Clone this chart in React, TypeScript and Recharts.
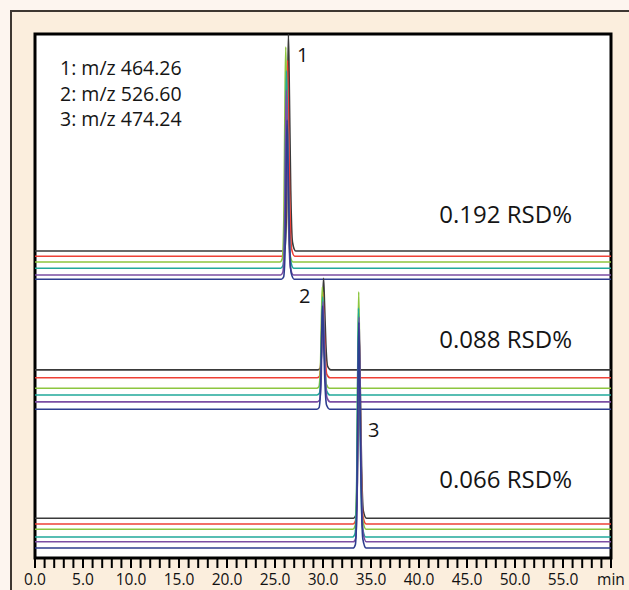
import React from 'react';
import { LineChart, Line, XAxis, YAxis, ReferenceArea, Customized } from 'recharts';

// ---- data ----
const traceColors = ['#3a3a3a', '#ee4036', '#8dc63f', '#20a99b', '#7b4ea3', '#2e3d8f'];
const traceNames = ['run1', 'run2', 'run3', 'run4', 'run5', 'run6'];

// peak shape template (minutes relative to apex, fraction of peak height)
const peakOffsets = [-0.6, -0.36, -0.2, -0.08, 0, 0.1, 0.24, 0.42, 0.75];
const peakShape = [0, 0.015, 0.2, 0.75, 1, 0.72, 0.28, 0.04, 0];

// panel 1 (m/z 464.26)
const p1Times = [26.4, 26.3, 26.12, 26.2, 26.18, 26.26];
const p1Base = [58.6, 57.6, 56.5, 55.3, 54.0, 53.2];
const p1Apex = [100, 95, 97.5, 93, 89.3, 83.6];

// panel 2 (m/z 526.60)
const p2Times = [30.06, 29.98, 29.93, 29.97, 30.0, 29.95];
const p2Base = [35.9, 34.4, 32.4, 31.1, 29.8, 28.4];
const p2Apex = [53.4, 50.8, 51.7, 49.8, 48.9, 48.1];

// panel 3 (m/z 474.24)
const p3Times = [33.78, 33.74, 33.72, 33.7, 33.76, 33.73];
const p3Base = [7.6, 6.5, 5.5, 4.0, 3.1, 1.9];
const p3Apex = [42.6, 43.9, 50.8, 47.7, 46.0, 45.0];

const legendLines = ['1: m/z 464.26', '2: m/z 526.60', '3: m/z 474.24'];
const rsdLabels = ['0.192 RSD%', '0.088 RSD%', '0.066 RSD%'];
const peakLabels = ['1', '2', '3'];

const tickValues = [
  0, 1, 2, 3, 4, 5, 6, 7, 8, 9, 10, 11, 12, 13, 14, 15, 16, 17, 18, 19, 20,
  21, 22, 23, 24, 25, 26, 27, 28, 29, 30, 31, 32, 33, 34, 35, 36, 37, 38, 39, 40,
  41, 42, 43, 44, 45, 46, 47, 48, 49, 50, 51, 52, 53, 54, 55, 56, 57, 58, 59, 60,
];

const X_MIN = 0;
const X_MAX = 60;

function buildTrace(t0: number, base: number, apex: number) {
  const pts: { t: number; v: number }[] = [{ t: X_MIN, v: base }];
  peakOffsets.forEach((o, i) => {
    pts.push({ t: t0 + o, v: base + (apex - base) * peakShape[i] });
  });
  pts.push({ t: X_MAX, v: base });
  return pts;
}

const panels = [
  { times: p1Times, base: p1Base, apex: p1Apex },
  { times: p2Times, base: p2Base, apex: p2Apex },
  { times: p3Times, base: p3Base, apex: p3Apex },
];

const FONT = '"Open Sans", "Noto Sans", sans-serif';

const XTick = (props: any) => {
  const { x, payload } = props;
  const v = payload.value as number;
  if (v % 5 !== 0) return <g />;
  return (
    <text x={x} y={585} textAnchor="middle" fontSize={15.5} fontFamily={FONT} fill="#111">
      {v === 60 ? 'min' : v.toFixed(1)}
    </text>
  );
};

const Annotations = () => (
  <g fontFamily={FONT} fill="#151515">
    {legendLines.map((s, i) => (
      <text key={s} x={60} y={75 + i * 25.5} fontSize={19.5} fill="#151515">
        {s}
      </text>
    ))}
    <text x={572} y={223} fontSize={24} textAnchor="end" fill="#151515">{rsdLabels[0]}</text>
    <text x={572} y={348} fontSize={24} textAnchor="end" fill="#151515">{rsdLabels[1]}</text>
    <text x={572} y={488} fontSize={24} textAnchor="end" fill="#151515">{rsdLabels[2]}</text>
    <text x={297} y={62} fontSize={20} fill="#151515">{peakLabels[0]}</text>
    <text x={299} y={303} fontSize={20} fill="#151515">{peakLabels[1]}</text>
    <text x={368} y={437} fontSize={20} fill="#151515">{peakLabels[2]}</text>
  </g>
);

export default function App() {
  return (
    <div style={{ position: 'fixed', left: 0, top: 0, width: 629, height: 590, background: '#fdf5ef', overflow: 'hidden' }}>
      <div
        style={{
          position: 'absolute',
          left: 10,
          top: 10,
          width: 700,
          height: 700,
          border: '2.5px solid #3d3731',
          background: '#fbeedd',
          boxSizing: 'border-box',
        }}
      />
      <div style={{ position: 'absolute', left: 35, top: 34, width: 576, height: 524, background: '#ffffff' }} />
      <div style={{ position: 'absolute', left: 0, top: 0 }}>
        <LineChart width={629} height={590} margin={{ top: 34, right: 18, bottom: 0, left: 35 }}>
          <XAxis
            dataKey="t"
            type="number"
            domain={[X_MIN, X_MAX]}
            ticks={tickValues}
            interval={0}
            allowDataOverflow
            height={32}
            axisLine={false}
            tickLine={{ stroke: '#000', strokeWidth: 2 }}
            tickSize={10}
            tick={<XTick />}
          />
          <YAxis type="number" domain={[0, 100]} hide allowDataOverflow />
          {panels.map((p, pi) =>
            traceColors.map((c, i) => (
              <Line
                key={`${pi}-${i}`}
                name={traceNames[i]}
                data={buildTrace(p.times[i], p.base[i], p.apex[i])}
                dataKey="v"
                type="monotone"
                stroke={c}
                strokeWidth={1.6}
                dot={false}
                activeDot={false}
                isAnimationActive={false}
              />
            ))
          )}
          <ReferenceArea x1={X_MIN} x2={X_MAX} y1={0} y2={100} fill="none" stroke="#000" strokeWidth={3} ifOverflow="visible" />
          <Customized component={<Annotations />} />
        </LineChart>
      </div>
    </div>
  );
}
